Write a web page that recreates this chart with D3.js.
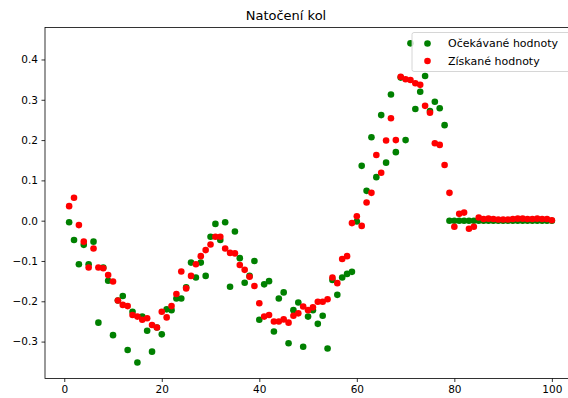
<!DOCTYPE html>
<html>
<head>
<meta charset="utf-8">
<script src="https://cdn.jsdelivr.net/npm/d3@7"></script>
<style>
  html, body { margin: 0; padding: 0; background: #fff; }
  svg { display: block; font-family: "DejaVu Sans", sans-serif; }
</style>
</head>
<body>
<svg id="chart" width="568" height="398"></svg>
<script>
// Steering angle samples: expected vs. obtained values, one per step 1..100
const steps = d3.range(1, 101);

const expected = [
  -0.004, -0.048, -0.108, -0.060, -0.108, -0.052, -0.253, -0.116, -0.149, -0.284,
  -0.198, -0.187, -0.321, -0.226, -0.352, -0.238, -0.273, -0.325, -0.265, -0.282,
  -0.220, -0.222, -0.193, -0.193, -0.165, -0.104, -0.141, -0.104, -0.137, -0.040,
  -0.008, -0.048, -0.004, -0.164, -0.027, -0.093, -0.154, -0.137, -0.100, -0.246,
  -0.158, -0.150, -0.275, -0.193, -0.178, -0.304, -0.222, -0.203, -0.313, -0.238,
  -0.222, -0.256, -0.236, -0.317, -0.147, -0.184, -0.141, -0.132, -0.127, -0.002,
   0.136,  0.074,  0.207,  0.108,  0.262,  0.144,  0.313,  0.170,  0.355,  0.200,
   0.440,  0.277,  0.320,  0.359,  0.272,  0.295,  0.279,  0.237,  0.000,  0.000,
   0.000,  0.000,  0.000,  0.000,  0.000,  0.000,  0.000,  0.000,  0.000,  0.000,
   0.000,  0.000,  0.000,  0.000,  0.000,  0.000,  0.000,  0.000,  0.000,  0.000
];

const obtained = [
   0.036,  0.057, -0.011, -0.052, -0.116, -0.069, -0.116, -0.118, -0.135, -0.151,
  -0.198, -0.209, -0.212, -0.234, -0.238, -0.246, -0.242, -0.259, -0.265, -0.226,
  -0.240, -0.212, -0.182, -0.126, -0.168, -0.137, -0.108, -0.088, -0.073, -0.059,
  -0.040, -0.040, -0.069, -0.080, -0.081, -0.110, -0.122, -0.139, -0.162, -0.205,
  -0.238, -0.234, -0.250, -0.250, -0.245, -0.253, -0.236, -0.230, -0.213, -0.222,
  -0.215, -0.201, -0.201, -0.195, -0.141, -0.155, -0.095, -0.088, -0.006,  0.011,
  -0.013,  0.045,  0.069,  0.163,  0.119,  0.199,  0.254,  0.200,  0.357,  0.351,
   0.349,  0.341,  0.337,  0.285,  0.268,  0.192,  0.188,  0.138,  0.069, -0.015,
   0.017,  0.020, -0.020, -0.015,  0.008,  0.004,  0.005,  0.004,  0.003,  0.003,
   0.003,  0.004,  0.005,  0.005,  0.004,  0.004,  0.005,  0.004,  0.004,  0.001
];

const xTicks = [0, 20, 40, 60, 80, 100];
const yTicks = [-0.3, -0.2, -0.1, 0.0, 0.1, 0.2, 0.3, 0.4];

const seriesNames = ["Očekávané hodnoty", "Získané hodnoty"];
const seriesColors = ["green", "red"];
const title = "Natočení kol";

// Plot frame
const plotLeft = 45, plotRight = 576, plotTop = 27.4, plotBottom = 378.5;

// Data limits padded by 5% on each side
const xExt = d3.extent(steps), xPad = (xExt[1] - xExt[0]) * 0.05;
const allY = expected.concat(obtained);
const yExt = d3.extent(allY), yPad = (yExt[1] - yExt[0]) * 0.05;

const x = d3.scaleLinear().domain([xExt[0] - xPad, xExt[1] + xPad]).range([plotLeft, plotRight]);
const y = d3.scaleLinear().domain([yExt[0] - yPad, yExt[1] + yPad]).range([plotBottom, plotTop]);

const svg = d3.select("#chart");

// Points: expected first, obtained drawn over them
[expected, obtained].forEach((vals, i) => {
  svg.append("g")
    .selectAll("circle")
    .data(steps.map((s, j) => ({ s, v: vals[j] })))
    .join("circle")
    .attr("cx", d => x(d.s))
    .attr("cy", d => y(d.v))
    .attr("r", 3.3)
    .attr("fill", seriesColors[i]);
});

// Axes
const xAxis = svg.append("g")
  .attr("transform", `translate(0,${plotBottom})`)
  .call(d3.axisBottom(x).tickValues(xTicks).tickFormat(d3.format("d"))
    .tickSize(3.5).tickPadding(3.5).tickSizeOuter(0));
const yAxis = svg.append("g")
  .attr("transform", `translate(${plotLeft},0)`)
  .call(d3.axisLeft(y).tickValues(yTicks).tickFormat(d3.format(".1f"))
    .tickSize(3.5).tickPadding(3.5).tickSizeOuter(0));

[xAxis, yAxis].forEach(a => {
  a.select(".domain").remove();
  a.selectAll(".tick line").attr("stroke", "#000").attr("stroke-width", 0.8);
  a.selectAll(".tick text").attr("fill", "#000").style("font-size", "10.5px")
    .style("font-family", "DejaVu Sans, sans-serif");
});

// Frame
svg.append("rect")
  .attr("x", plotLeft).attr("y", plotTop)
  .attr("width", plotRight - plotLeft).attr("height", plotBottom - plotTop)
  .attr("fill", "none").attr("stroke", "#000").attr("stroke-width", 0.8);

// Title
svg.append("text")
  .attr("x", 286).attr("y", 20)
  .attr("text-anchor", "middle")
  .style("font-size", "13px")
  .attr("fill", "#000")
  .text(title);

// Legend
const lg = svg.append("g");
lg.append("rect")
  .attr("x", 412).attr("y", 32.5).attr("width", 170).attr("height", 39)
  .attr("rx", 2)
  .attr("fill", "#fff").attr("fill-opacity", 0.8)
  .attr("stroke", "#ccc").attr("stroke-width", 0.8);
seriesNames.forEach((name, i) => {
  const cy = 43.5 + i * 17.5;
  lg.append("circle").attr("cx", 427.5).attr("cy", cy).attr("r", 3.3).attr("fill", seriesColors[i]);
  lg.append("text")
    .attr("x", 448).attr("y", cy)
    .attr("dy", "0.35em")
    .style("font-size", "11px")
    .attr("fill", "#000")
    .text(name);
});
</script>
</body>
</html>
